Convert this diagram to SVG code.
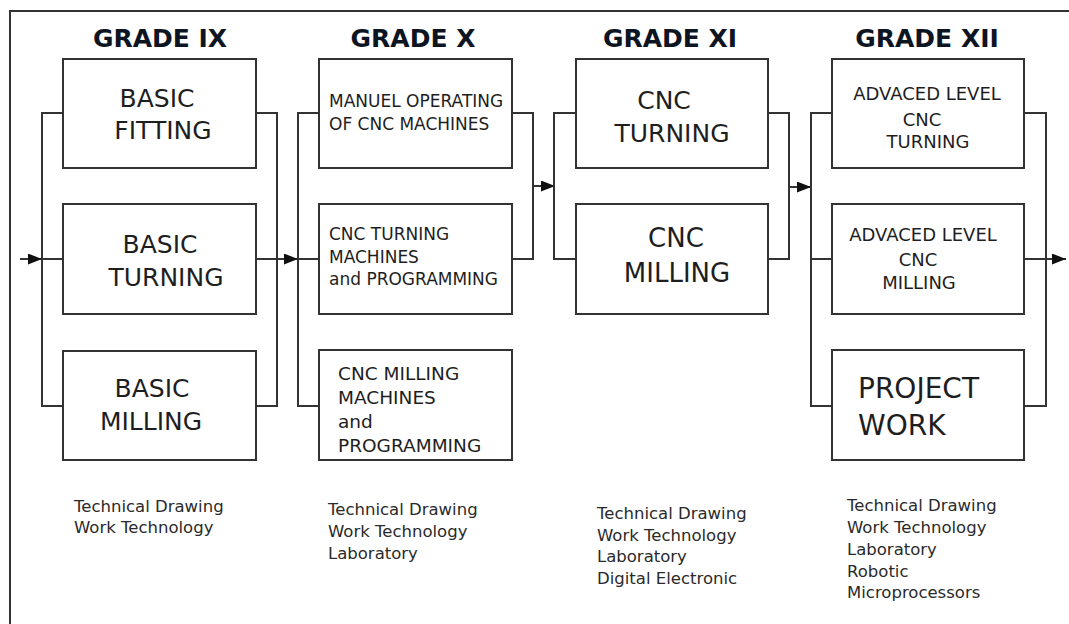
<svg xmlns="http://www.w3.org/2000/svg" width="1069" height="624" viewBox="0 0 1069 624">
<defs>
<style>
.box{fill:#fff;stroke:#333;stroke-width:2}
.ln{fill:none;stroke:#333;stroke-width:2}
.hd{font-family:"DejaVu Sans",Verdana,sans-serif;font-weight:bold;font-size:25px;fill:#0d1422;text-anchor:middle}
.t{font-family:"DejaVu Sans",Tahoma,sans-serif;fill:#1e1e1e}
.big{font-size:25px;text-anchor:middle}
.mid{font-size:18px;text-anchor:middle}
.sm{font-size:17px}
.sub{font-family:"DejaVu Sans",Tahoma,sans-serif;font-size:16.5px;fill:#2a2a2a}
</style>
<marker id="ah" viewBox="0 0 14 11" refX="14" refY="5.5" markerWidth="14" markerHeight="11" markerUnits="userSpaceOnUse" orient="auto">
<path d="M0,0 L14,5.5 L0,11 Z" fill="#111"/>
</marker>
</defs>
<rect width="1069" height="624" fill="#fff"/>
<path class="ln" d="M10,624 V11 H1069"/>

<g id="headings">
<text class="hd" x="160" y="47">GRADE IX</text>
<text class="hd" x="413" y="47">GRADE X</text>
<text class="hd" x="670" y="47">GRADE XI</text>
<text class="hd" x="927" y="47">GRADE XII</text>
</g>

<g id="connectors">
<path class="ln" d="M63,113 H42 V406 H63"/>
<path class="ln" d="M256,113 H277 V406 H256"/>
<path class="ln" d="M20,259 H42" marker-end="url(#ah)"/>
<path class="ln" d="M42,259 H63"/>
<path class="ln" d="M256,259 H298" marker-end="url(#ah)"/>
<path class="ln" d="M319,113 H298 V406 H319"/>
<path class="ln" d="M298,259 H319"/>
<path class="ln" d="M512,113 H533 V259 H512"/>
<path class="ln" d="M533,186 H555" marker-end="url(#ah)"/>
<path class="ln" d="M576,113 H554 V259 H576"/>
<path class="ln" d="M768,113 H789 V259 H768"/>
<path class="ln" d="M789,187 H811" marker-end="url(#ah)"/>
<path class="ln" d="M832,113 H811 V406 H832"/>
<path class="ln" d="M811,259 H832"/>
<path class="ln" d="M1024,113 H1046 V406 H1024"/>
<path class="ln" d="M1024,259 H1066" marker-end="url(#ah)"/>
</g>

<g id="n1"><rect class="box" x="63" y="59" width="193" height="109"/>
<text class="t big" x="157" y="107">BASIC</text><text class="t big" x="163" y="139">FITTING</text></g>
<g id="n2"><rect class="box" x="63" y="204" width="193" height="110"/>
<text class="t big" x="160" y="253">BASIC</text><text class="t big" x="166" y="286">TURNING</text></g>
<g id="n3"><rect class="box" x="63" y="351" width="193" height="109"/>
<text class="t big" x="152" y="397">BASIC</text><text class="t big" x="151" y="430">MILLING</text></g>

<g id="n4"><rect class="box" x="319" y="59" width="193" height="109"/>
<text class="t sm" x="329" y="107">MANUEL OPERATING</text><text class="t sm" x="329" y="130">OF CNC MACHINES</text></g>
<g id="n5"><rect class="box" x="319" y="204" width="193" height="110"/>
<text class="t sm" x="329" y="240">CNC TURNING</text><text class="t sm" x="329" y="263">MACHINES</text><text class="t sm" x="329" y="285">and PROGRAMMING</text></g>
<g id="n6"><rect class="box" x="319" y="350" width="193" height="110"/>
<text class="t" font-size="18.5" x="338" y="380">CNC MILLING</text><text class="t" font-size="18.5" x="338" y="404">MACHINES</text><text class="t" font-size="18.5" x="338" y="428">and</text><text class="t" font-size="18.5" x="338" y="452">PROGRAMMING</text></g>

<g id="n7"><rect class="box" x="576" y="59" width="192" height="109"/>
<text class="t big" x="664" y="109">CNC</text><text class="t big" x="672" y="142">TURNING</text></g>
<g id="n8"><rect class="box" x="576" y="204" width="192" height="110"/>
<text class="t big" style="font-size:26px" x="676" y="247">CNC</text><text class="t big" style="font-size:26px" x="677" y="282">MILLING</text></g>

<g id="n9"><rect class="box" x="832" y="59" width="192" height="109"/>
<text class="t mid" x="927" y="100">ADVACED LEVEL</text><text class="t mid" x="922" y="126">CNC</text><text class="t mid" x="928" y="148">TURNING</text></g>
<g id="n10"><rect class="box" x="832" y="204" width="192" height="110"/>
<text class="t mid" x="923" y="241">ADVACED LEVEL</text><text class="t mid" x="918" y="266">CNC</text><text class="t mid" x="919" y="289">MILLING</text></g>
<g id="n11"><rect class="box" x="832" y="350" width="192" height="110"/>
<text class="t" font-size="28" x="858" y="398">PROJECT</text><text class="t" font-size="28" x="858" y="435">WORK</text></g>

<g id="subjects">
<text class="sub" x="74" y="512">Technical Drawing</text>
<text class="sub" x="74" y="533">Work Technology</text>
<text class="sub" x="328" y="515">Technical Drawing</text>
<text class="sub" x="328" y="537">Work Technology</text>
<text class="sub" x="328" y="559">Laboratory</text>
<text class="sub" x="597" y="519">Technical Drawing</text>
<text class="sub" x="597" y="541">Work Technology</text>
<text class="sub" x="597" y="562">Laboratory</text>
<text class="sub" x="597" y="584">Digital Electronic</text>
<text class="sub" x="847" y="511">Technical Drawing</text>
<text class="sub" x="847" y="533">Work Technology</text>
<text class="sub" x="847" y="555">Laboratory</text>
<text class="sub" x="847" y="577">Robotic</text>
<text class="sub" x="847" y="598">Microprocessors</text>
</g>
</svg>
